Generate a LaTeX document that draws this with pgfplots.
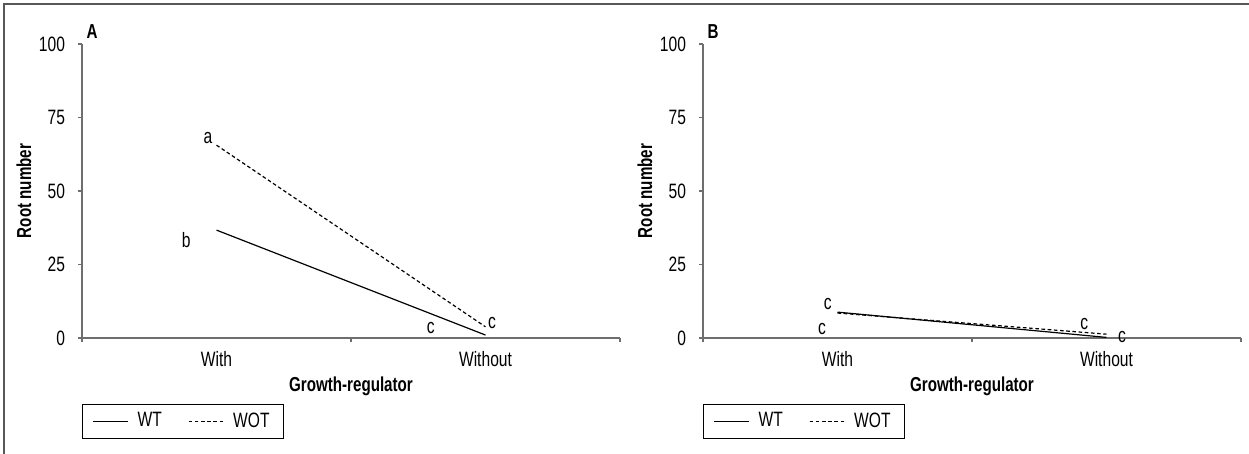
\documentclass[border=0pt]{standalone}
\usepackage{fontspec}
\setmainfont{Liberation Sans}[FakeStretch=0.75]
\usepackage{pgfplots}
\pgfplotsset{compat=1.18}

\definecolor{axgray}{RGB}{110,110,110}

\tikzset{lab/.style={font=\fontsize{10.4}{12}\selectfont, inner sep=0pt}}

\pgfplotsset{
  panel/.style={
    scale only axis,
    width=269pt, height=147pt,
    anchor=south west,
    xmin=0, xmax=2, ymin=0, ymax=100,
    axis x line*=bottom, axis y line*=left,
    axis line style={axgray, line width=0.7pt},
    every tick/.style={axgray, line width=0.6pt},
    tick align=outside, major tick length=2pt,
    xtick={0,1,2}, xticklabels={,,},
    extra x ticks={0.5,1.5}, extra x tick labels={With,Without},
    extra x tick style={major tick length=0pt},
    ytick={0,25,50,75,100},
    tick label style={font=\fontsize{10.4}{12}\selectfont},
    /pgf/number format/assume math mode=true,
    yticklabel style={xshift=-3pt},
    xticklabel style={yshift=-3pt},
    ylabel={\textbf{Root number}},
    ylabel style={at={(rel axis cs:-0.108,0.5)}, anchor=center, rotate=0, font=\fontsize{10.1}{12}\selectfont},
    xlabel={\textbf{Growth-regulator}},
    xlabel style={at={(rel axis cs:0.5,-0.163)}, anchor=center, font=\fontsize{10.1}{12}\selectfont},
    legend columns=2,
    legend style={at={(rel axis cs:0,-0.2245)}, anchor=north west, draw=black, line width=0.5pt,
      font=\fontsize{10.4}{12}\selectfont, inner xsep=5pt, inner ysep=2pt,
      /tikz/every even column/.append style={column sep=11pt}},
    legend image code/.code={\draw[#1] (0pt,0pt) -- (17.5pt,0pt); \path (20pt,0pt);},
    clip=false,
  },
  wt/.style={black, line width=0.6pt, mark=none},
  wot/.style={black, line width=0.6pt, dash pattern=on 1.8pt off 1.3pt, mark=none},
}

\begin{document}
\begin{tikzpicture}
\useasboundingbox (0,0) rectangle (624.5pt,-227pt);
\draw[axgray!80!black, line width=1pt] (2pt,-227pt) -- (2pt,-2pt) -- (624.5pt,-2pt);

\begin{axis}[panel, at={(41pt,-169pt)}]
  \addplot[wt] coordinates {(0.5,36.7) (1.5,1.0)};
  \addplot[wot] coordinates {(0.5,65.6) (1.5,3.8)};
  \legend{WT,WOT}
  \node[lab] at (axis cs:0.468,68.0) {a};
  \node[lab] at (axis cs:0.387,33.3) {b};
  \node[lab] at (axis cs:1.297,3.4) {c};
  \node[lab] at (axis cs:1.524,5.1) {c};
  \node[font=\bfseries\fontsize{10.1}{12}\selectfont, inner sep=0pt] at (rel axis cs:0.0186,1.041) {A};
\end{axis}

\begin{axis}[panel, at={(351.5pt,-169pt)}]
  \addplot[wt] coordinates {(0.5,8.8) (1.5,0.2)};
  \addplot[wot] coordinates {(0.5,8.5) (1.5,1.3)};
  \legend{WT,WOT}
  \node[lab] at (axis cs:0.464,11.6) {c};
  \node[lab] at (axis cs:0.442,3.1) {c};
  \node[lab] at (axis cs:1.417,4.8) {c};
  \node[lab] at (axis cs:1.558,0.3) {c};
  \node[font=\bfseries\fontsize{10.1}{12}\selectfont, inner sep=0pt] at (rel axis cs:0.0186,1.041) {B};
\end{axis}
\end{tikzpicture}
\end{document}
